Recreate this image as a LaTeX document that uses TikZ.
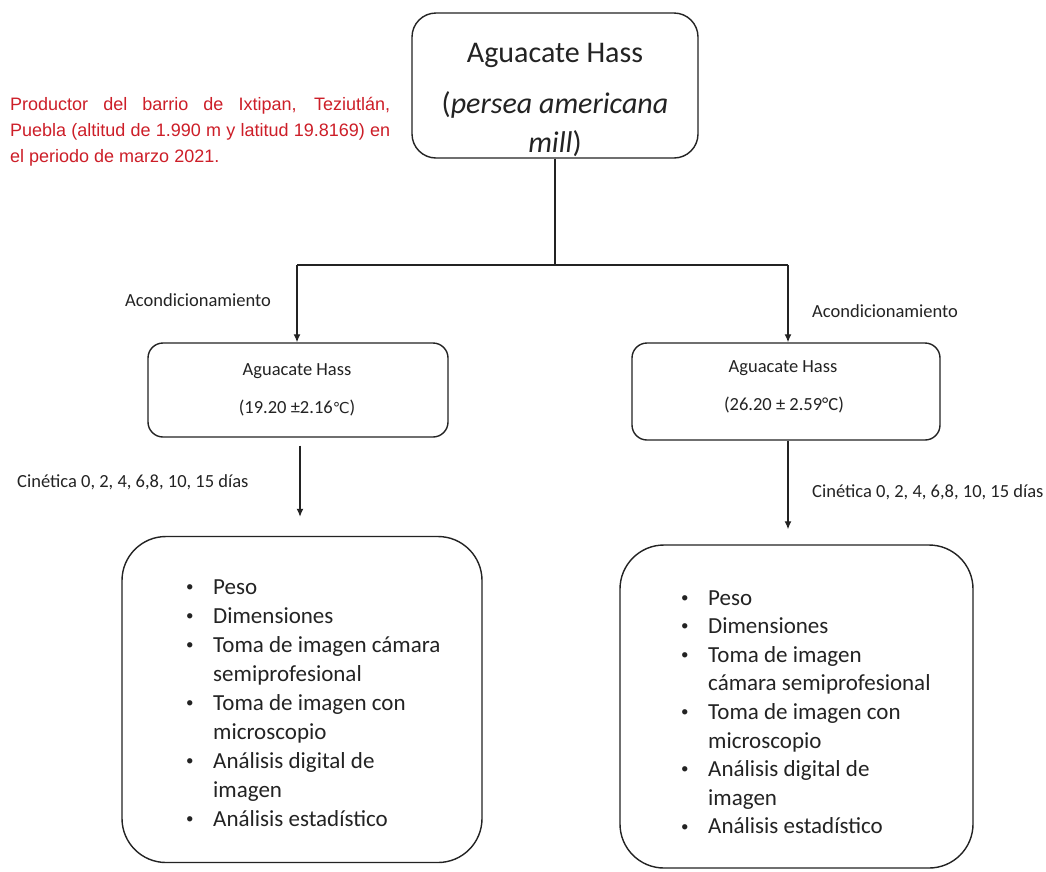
\documentclass[tikz,border=0pt]{standalone}
\usepackage{fontspec}
\setmainfont{Carlito}
\newfontfamily\arialf{Liberation Sans}
\newfontfamily\djv{DejaVu Sans}
\usetikzlibrary{arrows.meta,calc}
\definecolor{redtxt}{RGB}{205,30,40}
\definecolor{ink}{RGB}{35,35,35}
\newcommand{\smbul}{\raisebox{0.12em}{\fontsize{15}{15}\selectfont•}}
\begin{document}
\begin{tikzpicture}[x=1pt,y=-1pt,
  box/.style={draw=ink, line width=1.4pt, rounded corners=#1, inner sep=0pt},
  conn/.style={draw=ink, line width=1.3pt},
  arr/.style={conn, -{Latex[length=8pt,width=7pt]}},
  lbl/.style={text=ink, inner sep=0pt, anchor=base west},
  txt/.style={text=ink, inner sep=0pt, anchor=base},
  toptxt/.style={txt, font=\fontsize{30}{36}\selectfont},
  midtxt/.style={txt, font=\fontsize{18.5}{22}\selectfont},
  smalllbl/.style={lbl, font=\fontsize{18.5}{22}\selectfont},
  listtxt/.style={lbl, font=\fontsize{23}{29}\selectfont}
]
\useasboundingbox (0,0) rectangle (1046,871);
\fill[white] (0,0) rectangle (1046,871);

% red note
\node[inner sep=0pt, anchor=base west, text=redtxt, font=\arialf\fontsize{18}{26}\selectfont] (note) at (10,110)
 {\begin{tabular}[t]{@{}l@{}}
 \makebox[380pt][s]{Productor del barrio de Ixtipan, Teziutlán,}\\
 \makebox[380pt][s]{Puebla (altitud de 1.990 m y latitud 19.8169) en}\\
 el periodo de marzo 2021.
 \end{tabular}};

% top box
\node[box=24pt, minimum width=286pt, minimum height=145pt] (top) at (555,85.5) {};
\node[toptxt] (t1) at (555,62) {Aguacate Hass};
\node[toptxt] (t2) at (555,113) {(\textit{persea americana}};
\node[toptxt] (t3) at (555,152) {\textit{mill})};

% middle boxes
\node[box=15pt, minimum width=300pt, minimum height=94pt] (midL) at (298,390) {};
\node[midtxt] (mL1) at (297,375) {Aguacate Hass};
\node[midtxt] (mL2) at (297,413) {(19.20 ±2.16{\djv\fontsize{15}{18}\selectfont ℃})};

\node[box=15pt, minimum width=308pt, minimum height=97pt] (midR) at (786,391.5) {};
\node[midtxt] (mR1) at (783,372) {Aguacate Hass};
\node[midtxt] (mR2) at (784,410) {(26.20 ± 2.59°C)};

% bottom boxes
\node[box=44pt, minimum width=360pt, minimum height=326pt] (botL) at (302,699.5) {};
\node[box=44pt, minimum width=353pt, minimum height=323pt] (botR) at (796.5,706.5) {};

\node[listtxt] (listL) at (186,594) {\begin{tabular}[t]{@{}p{27pt}@{}l@{}}
\smbul& Peso\\
\smbul& Dimensiones\\
\smbul& Toma de imagen cámara\\
 & semiprofesional\\
\smbul& Toma de imagen con\\
 & microscopio\\
\smbul& Análisis digital de\\
 & imagen\\
\smbul& Análisis estadístico
\end{tabular}};

\node[listtxt, font=\fontsize{23}{28.6}\selectfont] (listR) at (681,605) {\begin{tabular}[t]{@{}p{27pt}@{}l@{}}
\smbul& Peso\\
\smbul& Dimensiones\\
\smbul& Toma de imagen\\
 & cámara semiprofesional\\
\smbul& Toma de imagen con\\
 & microscopio\\
\smbul& Análisis digital de\\
 & imagen\\
\smbul& Análisis estadístico
\end{tabular}};

% labels
\node[smalllbl] (acL) at (125,306) {Acondicionamiento};
\node[smalllbl] (acR) at (812,317) {Acondicionamiento};
\node[smalllbl] (ciL) at (17,487) {Cinética 0, 2, 4, 6,8, 10, 15 días};
\node[smalllbl] (ciR) at (812,497) {Cinética 0, 2, 4, 6,8, 10, 15 días};

% connectors
\coordinate (jc) at (555,265);
\coordinate (jl) at (297,265);
\coordinate (jr) at (788,265);
\coordinate (al) at (300,0);
\coordinate (ar) at (788,0);
\draw[conn] (top.south) -- (jc);
\draw[conn] (jl) -- (jr);
\draw[arr] (jl) -- (jl |- midL.north);
\draw[arr] (jr) -- (jr |- midR.north);
\draw[arr, shorten <=8pt, shorten >=19pt] (al |- midL.south) -- (al |- botL.north);
\draw[arr, shorten >=15pt] (ar |- midR.south) -- (ar |- botR.north);
\end{tikzpicture}
\end{document}
